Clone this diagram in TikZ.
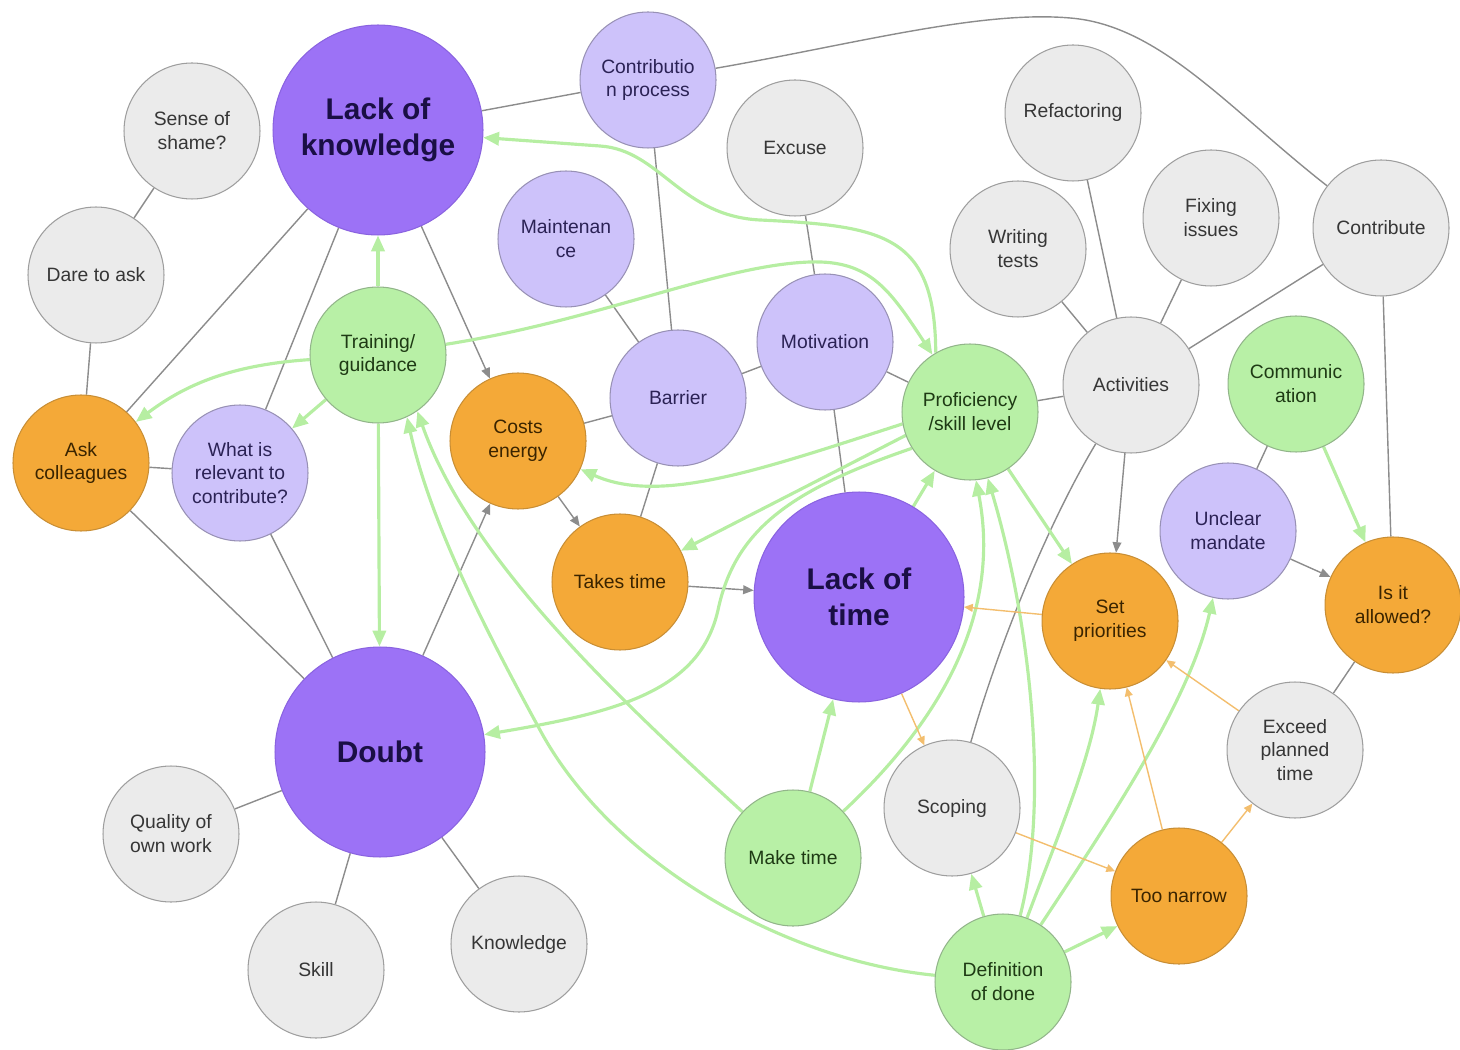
\documentclass[tikz,border=0pt]{standalone}
\usepackage{fontspec}
\setmainfont{Liberation Sans}
\usetikzlibrary{arrows.meta}

\definecolor{corefill}{HTML}{9C72F6}
\definecolor{coreline}{HTML}{8A63E0}
\definecolor{coretext}{HTML}{1A0F45}
\definecolor{topicfill}{HTML}{CDC2FA}
\definecolor{topicline}{HTML}{9891B5}
\definecolor{topictext}{HTML}{2B2255}
\definecolor{grayfill}{HTML}{EBEBEB}
\definecolor{grayline}{HTML}{9E9E9E}
\definecolor{graytext}{HTML}{363636}
\definecolor{greenfill}{HTML}{B8F0A6}
\definecolor{greenline}{HTML}{92B58A}
\definecolor{greentext}{HTML}{1E3A14}
\definecolor{orangefill}{HTML}{F4A938}
\definecolor{orangeline}{HTML}{C88E35}
\definecolor{orangetext}{HTML}{3A2400}
\definecolor{relgray}{HTML}{8C8C8C}
\definecolor{helpgreen}{HTML}{B6EEA2}
\definecolor{riskorange}{HTML}{F3BE6E}

\pgfdeclarelayer{background}
\pgfsetlayers{background,main}

\tikzset{
  ball/.style={circle,draw,line width=0.6pt,minimum size=2.72cm,inner sep=0pt,
    align=center,font=\fontsize{11}{13.6}\selectfont},
  corenode/.style={ball,fill=corefill,draw=coreline,text=coretext,minimum size=4.2cm,
    font=\fontsize{17}{20.5}\selectfont\bfseries},
  topicnode/.style={ball,fill=topicfill,draw=topicline,text=topictext},
  graynode/.style={ball,fill=grayfill,draw=grayline,text=graytext},
  greennode/.style={ball,fill=greenfill,draw=greenline,text=greentext},
  orangenode/.style={ball,fill=orangefill,draw=orangeline,text=orangetext},
  rel/.style={draw=relgray,line width=0.8pt},
  relarrow/.style={rel,-{Triangle[length=6pt,width=5pt]}},
  helps/.style={draw=helpgreen,line width=1.8pt,-{Triangle[length=9pt,width=7.5pt]}},
  risks/.style={draw=riskorange,line width=0.8pt,-{Triangle[length=5pt,width=4.5pt]}}
}

\begin{document}
\begin{tikzpicture}[x=0.02cm,y=-0.02cm]
\useasboundingbox (0,0) rectangle (1460,1050);

% knowledge side
\node[corenode] (lk) at (378,130) {Lack of\\knowledge};
\node[graynode] (shame) at (192,131) {Sense of\\shame?};
\node[graynode] (dare) at (96,275) {Dare to ask};
\node[greennode] (train) at (378,355) {Training/\\guidance};
\node[orangenode] (askc) at (81,463) {Ask\\colleagues};
\node[topicnode] (relev) at (240,473) {What is\\relevant to\\contribute?};
\node[corenode] (doubt) at (380,752) {Doubt};
\node[graynode] (quality) at (171,834) {Quality of\\own work};
\node[graynode] (skill) at (316,970) {Skill};
\node[graynode] (knowl) at (519,944) {Knowledge};

% barriers in the middle
\node[topicnode] (cproc) at (648,80) {Contributio\\n process};
\node[graynode] (excuse) at (795,148) {Excuse};
\node[topicnode] (maint) at (566,239) {Maintenan\\ce};
\node[topicnode] (motiv) at (825,342) {Motivation};
\node[topicnode] (barrier) at (678,398) {Barrier};
\node[orangenode] (energy) at (518,441) {Costs\\energy};
\node[orangenode] (takes) at (620,582) {Takes time};
\node[corenode] (ltime) at (859,597) {Lack of\\time};
\node[greennode] (mtime) at (793,858) {Make time};

% activities side
\node[graynode] (refac) at (1073,113) {Refactoring};
\node[graynode] (tests) at (1018,249) {Writing\\tests};
\node[graynode] (fixing) at (1211,218) {Fixing\\issues};
\node[graynode] (contrib) at (1381,228) {Contribute};
\node[greennode] (prof) at (970,412) {Proficiency\\/skill level};
\node[graynode] (activ) at (1131,385) {Activities};
\node[greennode] (comm) at (1296,384) {Communic\\ation};
\node[topicnode] (mandate) at (1228,531) {Unclear\\mandate};
\node[orangenode] (prio) at (1110,621) {Set\\priorities};
\node[orangenode] (allowed) at (1393,605) {Is it\\allowed?};
\node[graynode] (scope) at (952,808) {Scoping};
\node[graynode] (exceed) at (1295,750) {Exceed\\planned\\time};
\node[orangenode] (narrow) at (1179,896) {Too narrow};
\node[greennode] (dod) at (1003,982) {Definition\\of done};

\begin{pgfonlayer}{background}
% plain relations
\draw[rel] (shame) -- (dare);
\draw[rel] (dare) -- (askc);
\draw[rel] (lk) -- (askc);
\draw[rel] (lk) -- (relev);
\draw[relarrow] (lk) -- (energy);
\draw[rel] (lk) -- (cproc);
\draw[rel] (cproc) -- (barrier);
\draw[rel] (cproc) .. controls (850,45) and (980,10) .. (1070,18)
  .. controls (1160,25) and (1230,110) .. (contrib);
\draw[rel] (maint) -- (barrier);
\draw[rel] (excuse) -- (motiv);
\draw[rel] (motiv) -- (barrier);
\draw[rel] (motiv) -- (ltime);
\draw[rel] (motiv) -- (prof);
\draw[rel] (barrier) -- (energy);
\draw[rel] (barrier) -- (takes);
\draw[relarrow] (energy) -- (takes);
\draw[relarrow] (takes) -- (ltime);
\draw[relarrow] (doubt) -- (energy);
\draw[rel] (askc) -- (relev);
\draw[rel] (askc) -- (doubt);
\draw[rel] (relev) -- (doubt);
\foreach \n in {quality,skill,knowl}
  \draw[rel] (doubt) -- (\n);
\draw[rel] (prof) -- (activ);
\foreach \n in {refac,tests,fixing,contrib}
  \draw[rel] (\n) -- (activ);
\draw[relarrow] (activ) -- (prio);
\draw[rel] (activ) .. controls (1050,520) and (1000,640) .. (scope);
\draw[rel] (comm) -- (mandate);
\draw[relarrow] (mandate) -- (allowed);
\draw[rel] (contrib) -- (allowed);
\draw[rel] (allowed) -- (exceed);

% what helps
\draw[helps] (train) -- (lk);
\draw[helps] (train) -- (doubt);
\draw[helps] (train) .. controls (230,365) and (185,385) .. (askc);
\draw[helps] (train) -- (relev);
\draw[helps] (train) .. controls (600,320) and (720,265) .. (810,262)
  .. controls (870,260) and (890,290) .. (prof);
\draw[helps] (prof.120) .. controls (935,235) and (885,226) .. (760,220)
  .. controls (680,216) and (660,150) .. (600,146) -- (lk);
\draw[helps] (prof.190) .. controls (760,470) and (660,505) .. (energy);
\draw[helps] (prof.200) -- (takes);
\draw[helps] (prof.212) .. controls (790,490) and (735,530) .. (718,610)
  .. controls (700,690) and (620,712) .. (doubt);
\draw[helps] (ltime) -- (prof);
\draw[helps] (prof) -- (prio);
\draw[helps] (comm) -- (allowed);
\draw[helps] (mtime) -- (ltime);
\draw[helps] (mtime) .. controls (920,740) and (1005,630) .. (prof.-85);
\draw[helps] (mtime) .. controls (620,700) and (470,560) .. (train.-55);
\draw[helps] (dod) .. controls (780,960) and (610,860) .. (540,730)
  .. controls (480,620) and (430,520) .. (train.-65);
\draw[helps] (dod) -- (scope);
\draw[helps] (dod) .. controls (1050,800) and (1030,620) .. (prof.-75);
\draw[helps] (dod) .. controls (1060,830) and (1090,760) .. (prio);
\draw[helps] (dod) .. controls (1110,820) and (1190,700) .. (mandate);
\draw[helps] (dod) -- (narrow);

% what hurts
\draw[risks] (prio) -- (ltime);
\draw[risks] (ltime) -- (scope);
\draw[risks] (scope) -- (narrow);
\draw[risks] (narrow) -- (prio);
\draw[risks] (narrow) -- (exceed);
\draw[risks] (exceed) -- (prio);
\end{pgfonlayer}
\end{tikzpicture}
\end{document}
